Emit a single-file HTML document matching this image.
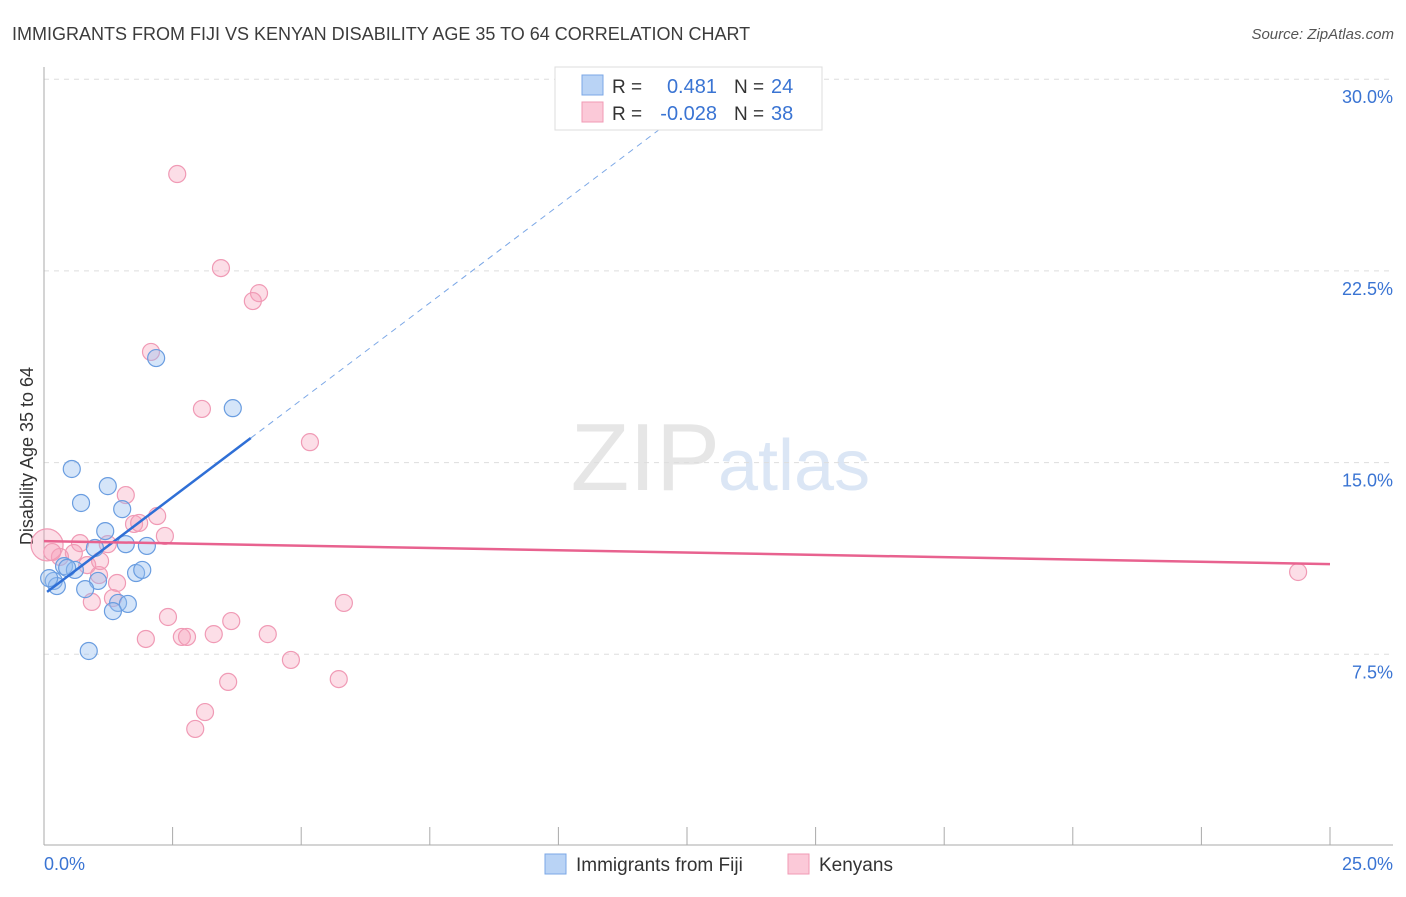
<!DOCTYPE html>
<html><head><meta charset="utf-8">
<style>
body{margin:0;background:#fff;font-family:"Liberation Sans",sans-serif;}
svg text{font-family:"Liberation Sans",sans-serif;}
</style></head>
<body>
<svg id="chart" width="1406" height="892" xmlns="http://www.w3.org/2000/svg">
<text x="12" y="40" font-size="18" fill="#3c3c3c">IMMIGRANTS FROM FIJI VS KENYAN DISABILITY AGE 35 TO 64 CORRELATION CHART</text>
<text x="1394" y="39" font-size="15" fill="#555" text-anchor="end" font-style="italic">Source: ZipAtlas.com</text>
<text x="720" y="490" font-size="96" fill="#e6e6e6" text-anchor="end" font-family="Liberation Serif">ZIP</text>
<text x="718" y="490" font-size="72" fill="#dbe6f5">atlas</text>
<text transform="translate(33,456) rotate(-90)" font-size="18" fill="#333" text-anchor="middle">Disability Age 35 to 64</text>
<g id="grid"></g>
<g id="axes"></g>
<g id="points"></g>
<g id="trends"></g>
<g>
<rect x="555" y="67" width="267" height="63" fill="#fff" stroke="#ddd"/>
<rect x="582" y="75" width="21" height="20" fill="#b9d3f5" stroke="#7ba7e6"/>
<rect x="582" y="102" width="21" height="20" fill="#fbc9d8" stroke="#f09ab5"/>
<text x="612" y="93" font-size="19" fill="#333">R =</text>
<text x="717" y="93" font-size="20" fill="#3a74d3" text-anchor="end">0.481</text>
<text x="734" y="93" font-size="19" fill="#333">N =</text>
<text x="771" y="93" font-size="20" fill="#3a74d3">24</text>
<text x="612" y="120" font-size="19" fill="#333">R =</text>
<text x="717" y="120" font-size="20" fill="#3a74d3" text-anchor="end">-0.028</text>
<text x="734" y="120" font-size="19" fill="#333">N =</text>
<text x="771" y="120" font-size="20" fill="#3a74d3">38</text>
</g>
<g>
<rect x="545" y="854" width="21" height="20" fill="#b9d3f5" stroke="#7ba7e6"/>
<text x="576" y="871" font-size="19" fill="#333">Immigrants from Fiji</text>
<rect x="788" y="854" width="21" height="20" fill="#fbc9d8" stroke="#f09ab5"/>
<text x="819" y="871" font-size="19" fill="#333">Kenyans</text>
</g>
</svg>
<script>
const xTicks=[0,2.5,5,7.5,10,12.5,15,17.5,20,22.5,25];
const yTicks=[7.5,15,22.5,30];
const yTickLabels=["7.5%","15.0%","22.5%","30.0%"];
const fijiX=[0.54,0.72,1.24,1.52,1.19,0.99,1.59,2.00,0.39,0.60,0.19,0.25,1.05,0.80,1.79,1.91,1.44,1.63,1.34,0.87,2.18,3.67,0.10,0.45];
const fijiY=[14.75,13.42,14.08,13.18,12.32,11.66,11.81,11.74,10.95,10.80,10.37,10.17,10.37,10.05,10.68,10.80,9.51,9.47,9.19,7.63,19.09,17.13,10.48,10.88];
const kenX=[2.59,3.44,4.18,4.06,2.08,3.07,5.17,1.59,2.20,1.75,1.85,2.35,1.24,0.70,0.58,0.31,0.06,0.84,1.07,1.42,1.34,0.93,2.41,3.64,2.68,2.78,3.30,4.35,1.98,5.83,4.80,5.73,3.58,3.13,2.94,24.38,0.16,1.09];
const kenY=[26.29,22.61,21.63,21.32,19.33,17.10,15.80,13.73,12.91,12.60,12.64,12.13,11.81,11.85,11.46,11.31,11.78,10.99,10.60,10.29,9.70,9.55,8.96,8.80,8.18,8.18,8.29,8.29,8.10,9.51,7.28,6.53,6.42,5.24,4.58,10.72,11.50,11.15];
const fijiTrend=[9.85,1.52];
const kenTrend=[11.93,-0.036];
const NS="http://www.w3.org/2000/svg";
const X=v=>44+v/25*1286;
const Y=v=>846-v/7.5*191.7;
function mk(parent,tag,attrs){const e=document.createElementNS(NS,tag);for(const k in attrs)e.setAttribute(k,attrs[k]);document.getElementById(parent).appendChild(e);return e;}
yTicks.forEach((t,i)=>{
 const l=mk('grid','line',{x1:44,x2:1393,y1:Y(t),y2:Y(t),stroke:'#ddd','stroke-dasharray':'5,5'});
 
 
 const tx=mk('axes','text',{x:1393,y:Y(t)+24,'font-size':18,fill:'#3a74d3','text-anchor':'end'});
 tx.textContent=yTickLabels[i];
 
 
});
const ax=mk('axes','line',{x1:44,x2:44,y1:67,y2:845,stroke:'#aaa'});


const bx=mk('axes','line',{x1:44,x2:1393,y1:845,y2:845,stroke:'#aaa'});


xTicks.forEach(t=>{
 const l=mk('axes','line',{x1:X(t),x2:X(t),y1:827,y2:845,stroke:'#aaa'});
 
 
});
const xl0=mk('axes','text',{x:44,y:870,'font-size':18,fill:'#3a74d3'});xl0.textContent=xTicks[0].toFixed(1)+'%';


const xl1=mk('axes','text',{x:1393,y:870,'font-size':18,fill:'#3a74d3','text-anchor':'end'});xl1.textContent=xTicks[xTicks.length-1].toFixed(1)+'%';


kenX.forEach((x,i)=>{
 const c=mk('points','circle',{cx:X(x),cy:Y(kenY[i]),r:(i==16?16:8.5),fill:'rgba(245,160,185,0.35)',stroke:'#f09ab5','stroke-width':1.2});
 
 
});
fijiX.forEach((x,i)=>{
 const c=mk('points','circle',{cx:X(x),cy:Y(fijiY[i]),r:8.5,fill:'rgba(150,190,240,0.4)',stroke:'#6a9de0','stroke-width':1.2});
 
 
});
const f=x=>fijiTrend[0]+fijiTrend[1]*x;
const t1=mk('trends','line',{x1:X(0.06),y1:Y(f(0.06)),x2:X(4.02),y2:Y(f(4.02)),stroke:'#2f6fd6','stroke-width':2.5});


const t2=mk('trends','line',{x1:X(4.02),y1:Y(f(4.02)),x2:X(12.4),y2:Y(f(12.4)),stroke:'#7ba7e6','stroke-width':1,'stroke-dasharray':'6,5'});


const k=x=>kenTrend[0]+kenTrend[1]*x;
const t3=mk('trends','line',{x1:X(0),y1:Y(k(0)),x2:X(25),y2:Y(k(25)),stroke:'#e8628f','stroke-width':2.5});


</script>
</body></html>
